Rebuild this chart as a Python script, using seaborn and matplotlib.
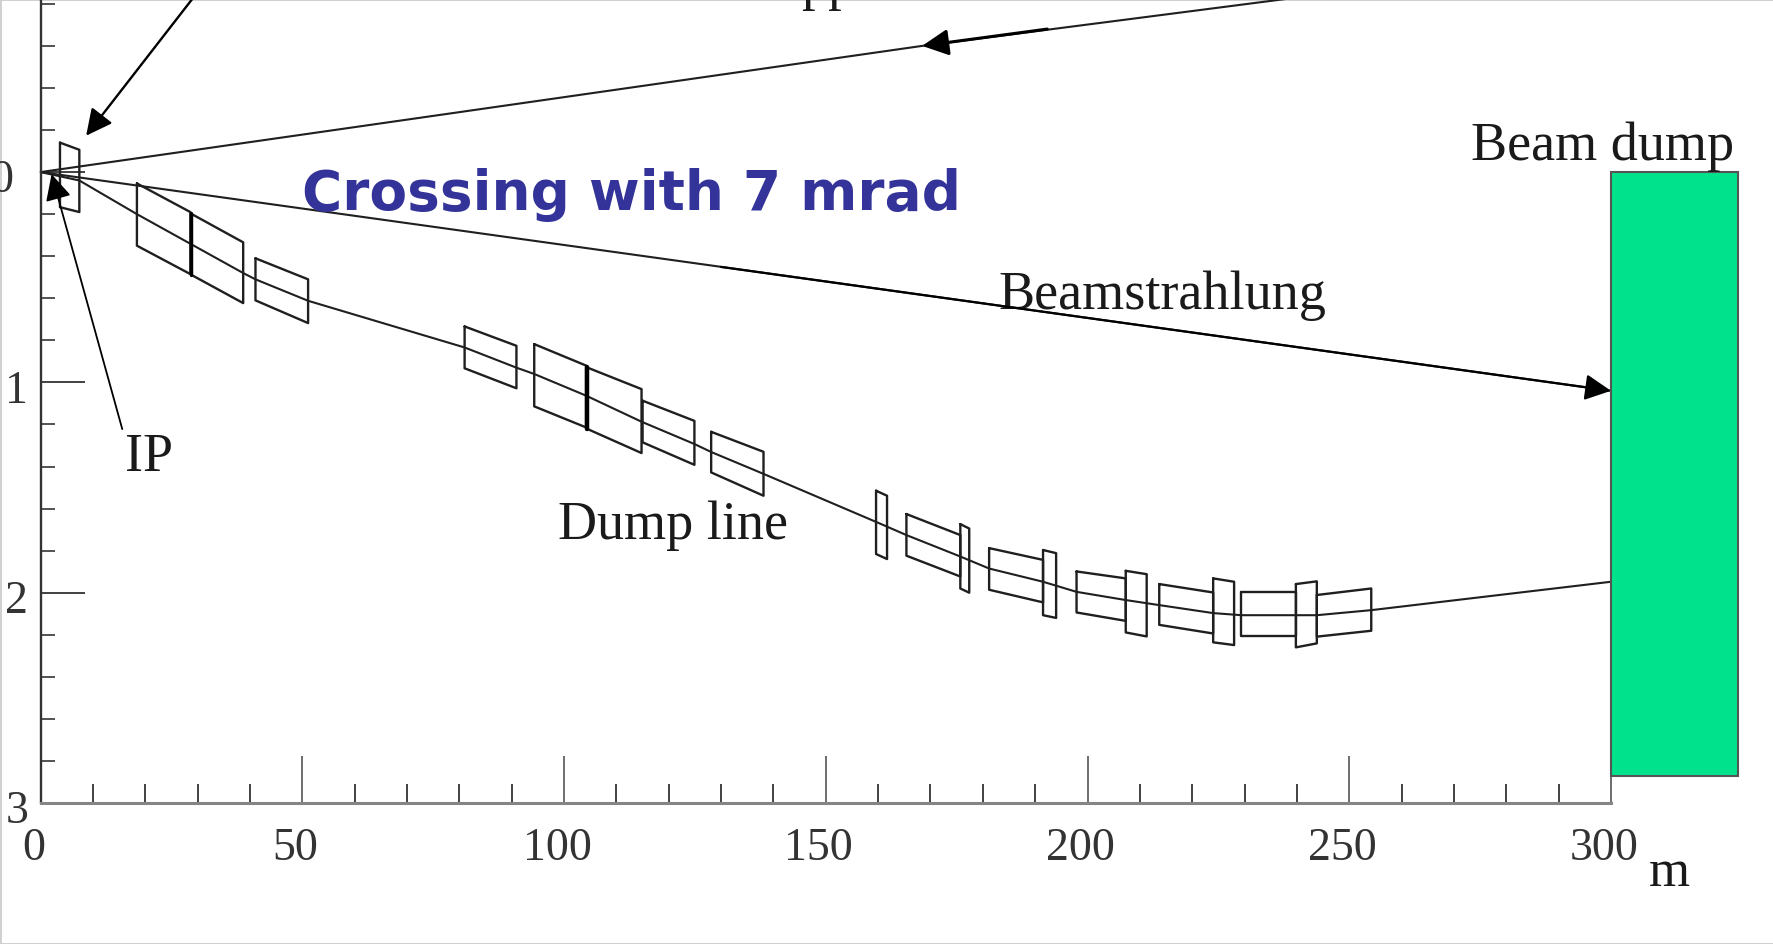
# -*- coding: utf-8 -*-
import numpy as np
import pandas as pd
import seaborn as sns
import matplotlib
matplotlib.use("Agg")
import matplotlib.pyplot as plt
from matplotlib.transforms import ScaledTranslation

sns.set_theme(style="ticks")
plt.rcParams['font.family'] = ['Liberation Serif', 'DejaVu Serif']

##magnets (metres along beam, metres off axis)
mag_x1 = [3.7, 18.4, 28.9, 41.05, 81.0, 94.3, 104.5, 115.0, 128.1, 159.6, 165.4, 175.7, 181.2, 191.5, 197.9, 207.3, 213.7, 224.0, 229.4, 239.8, 243.8]
mag_x2 = [7.4, 28.6, 38.7, 51.1, 90.9, 104.2, 114.8, 124.9, 138.1, 161.7, 175.7, 177.4, 191.5, 194.0, 207.3, 211.3, 224.0, 228.0, 239.8, 243.8, 254.2]
mag_top1 = [-0.14, 0.054, 0.20, 0.41, 0.734, 0.818, 0.93, 1.087, 1.235, 1.515, 1.626, 1.674, 1.788, 1.797, 1.899, 1.896, 1.959, 1.932, 1.999, 1.959, 2.011]
mag_bot1 = [0.167, 0.35, 0.49, 0.61, 0.933, 1.114, 1.222, 1.285, 1.428, 1.816, 1.824, 1.98, 1.986, 2.107, 2.094, 2.189, 2.153, 2.236, 2.205, 2.26, 2.209]
mag_top2 = [-0.106, 0.19, 0.334, 0.51, 0.826, 0.92, 1.032, 1.183, 1.33, 1.539, 1.726, 1.695, 1.844, 1.812, 1.932, 1.912, 1.999, 1.948, 1.999, 1.946, 1.98]
mag_bot2 = [0.19, 0.485, 0.623, 0.718, 1.028, 1.214, 1.336, 1.392, 1.539, 1.84, 1.923, 2.0, 2.046, 2.12, 2.134, 2.208, 2.194, 2.249, 2.205, 2.241, 2.181]

##dump line centre
beam_x = [0, 7.4, 18.4, 38.7, 41.05, 51.1, 81.0, 90.9, 94.3, 104.2, 114.8, 124.9, 128.1, 138.1, 160.6, 165.4, 175.7, 181.2, 191.5, 197.9, 207.3, 213.7, 224.0, 229.4, 239.8, 243.8, 254.2, 300]
beam_y = [0, 0.04, 0.2, 0.48, 0.51, 0.612, 0.834, 0.93, 0.96, 1.063, 1.187, 1.293, 1.331, 1.435, 1.674, 1.726, 1.828, 1.885, 1.948, 1.996, 2.035, 2.059, 2.097, 2.107, 2.107, 2.107, 2.083, 1.948]

strahl_x = [0, 300]
strahl_y = [0, 1.04]
upper_x = [0, 168.4, 240]
upper_y = [0, -0.6, -0.83]

##the heavy joints between magnets
thick_x = [104.35, 104.35]
thick_y = [0.925, 1.22]
thick2_x = [28.75, 28.75]
thick2_y = [0.195, 0.487]

dump_left = 300
dump_width = 24.3
dump_height = 2.87

x_major = [0, 50, 100, 150, 200, 250, 300]
x_minor = [10, 20, 30, 40, 60, 70, 80, 90, 110, 120, 130, 140, 160, 170, 180, 190, 210, 220, 230, 240, 260, 270, 280, 290]
y_major = [0, 1, 2, 3]
y_minor = [-0.8, -0.6, -0.4, -0.2, 0.2, 0.4, 0.6, 0.8, 1.2, 1.4, 1.6, 1.8, 2.2, 2.4, 2.6, 2.8]

W, H = 1774, 945
fig = plt.figure(figsize=(W/100, H/100), dpi=100, facecolor='white', edgecolor='#d0d0d0', linewidth=2)
ax = fig.add_axes([40.6/W, (H-804)/H, (1611-40.6)/W, 804/H])
ax.set_xlim(0, 300)
ax.set_ylim(3, -0.823)
ax.patch.set_alpha(0)

##build long table for the magnet outlines
rows = []
for i in range(len(mag_x1)):
    xs = [mag_x1[i], mag_x2[i], mag_x2[i], mag_x1[i], mag_x1[i]]
    ys = [mag_top1[i], mag_top2[i], mag_bot2[i], mag_bot1[i], mag_top1[i]]
    for a, b in zip(xs, ys):
        rows.append({'x': a, 'y': b, 'mag': i})
mags = pd.DataFrame(rows)

ink = '#1f1f1f'
sns.lineplot(data=mags, x='x', y='y', units='mag', estimator=None, sort=False,
             color=ink, linewidth=1.7, legend=False, ax=ax, clip_on=False)
sns.lineplot(x=beam_x, y=beam_y, estimator=None, sort=False, color=ink, linewidth=1.5, ax=ax)
sns.lineplot(x=strahl_x, y=strahl_y, estimator=None, sort=False, color=ink, linewidth=1.5, ax=ax, clip_on=False)
sns.lineplot(x=upper_x, y=upper_y, estimator=None, sort=False, color=ink, linewidth=1.5, ax=ax)
sns.lineplot(x=thick_x, y=thick_y, estimator=None, sort=False, color='black', linewidth=3.2, ax=ax)
sns.lineplot(x=thick2_x, y=thick2_y, estimator=None, sort=False, color='black', linewidth=2.4, ax=ax)

##beam dump
ax.bar(dump_left, dump_height, width=dump_width, align='edge', bottom=0, color='#00E38C',
       edgecolor='#555555', linewidth=1.5, clip_on=False, zorder=3)

##arrows
def arrow(tail, tip, lw=1.5):
    ax.annotate('', xy=tip, xytext=tail, annotation_clip=False, zorder=5,
                arrowprops=dict(arrowstyle='-|>,head_length=0.8,head_width=0.4', mutation_scale=20,
                                color='black', lw=lw, shrinkA=0, shrinkB=0))

arrow((29.5, -0.84), (8.7, -0.173), 1.7)
arrow((15.6, 1.222), (2.1, 0.01), 1.3)
arrow((192.3, -0.68), (168.4, -0.6), 2.2)
arrow((130, 0.451), (300, 1.04), 1.6)

##axes
ax.spines['top'].set_visible(False)
ax.spines['right'].set_visible(False)
ax.spines['left'].set_color('#333333')
ax.spines['left'].set_linewidth(1.7)
ax.spines['bottom'].set_color('#858585')
ax.spines['bottom'].set_linewidth(2.2)
ax.set_xticks(x_major)
ax.set_xticks(x_minor, minor=True)
ax.set_yticks(y_major)
ax.set_yticks(y_minor, minor=True)
ax.set_xticklabels([str(v) for v in x_major])
ax.set_yticklabels([str(v) for v in y_major])
ax.tick_params(axis='x', which='major', direction='in', length=34, width=1.2, color='#555555', pad=17, labelsize=33, labelcolor='#333333')
ax.tick_params(axis='x', which='minor', direction='in', length=14, width=1.3, color='#333333')
ax.tick_params(axis='y', which='major', direction='in', length=32, width=1.3, color='#333333', pad=9, labelsize=33, labelcolor='#333333')
ax.tick_params(axis='y', which='minor', direction='in', length=10, width=1.3, color='#444444')
ax.yaxis.get_major_ticks()[0].set_pad(20)
ax.set_xlabel('')
ax.set_ylabel('')

##tick labels sit a bit off their ticks in the original
for lab in ax.get_xticklabels():
    lab.set_transform(lab.get_transform() + ScaledTranslation(-7/100, 0, fig.dpi_scale_trans))
for lab in ax.get_yticklabels():
    lab.set_transform(lab.get_transform() + ScaledTranslation(0, -3/100, fig.dpi_scale_trans))

##labels
serif = dict(family='Liberation Serif', fontsize=39, color='#1a1a1a', va='baseline', ha='left')
ax.text(273.2, -0.062, 'Beam dump', clip_on=False, **serif)
ax.text(182.9, 0.648, 'Beamstrahlung', **serif)
ax.text(98.9, 1.74, 'Dump line', **serif)
ax.text(16.2, 1.415, 'IP', **serif)
ax.text(307.2, 3.39, 'm', clip_on=False, family='Liberation Serif', fontsize=38, color='#1a1a1a', va='baseline', ha='left')
ax.text(145.3, -0.83, 'pp', clip_on=True, **serif)
ax.text(50.0, 0.175, 'Crossing with 7 mrad', family='DejaVu Sans', fontweight='bold', fontsize=39.5,
        color='#333399', va='baseline', ha='left', zorder=6)

fig.savefig('out.png', dpi=100)
